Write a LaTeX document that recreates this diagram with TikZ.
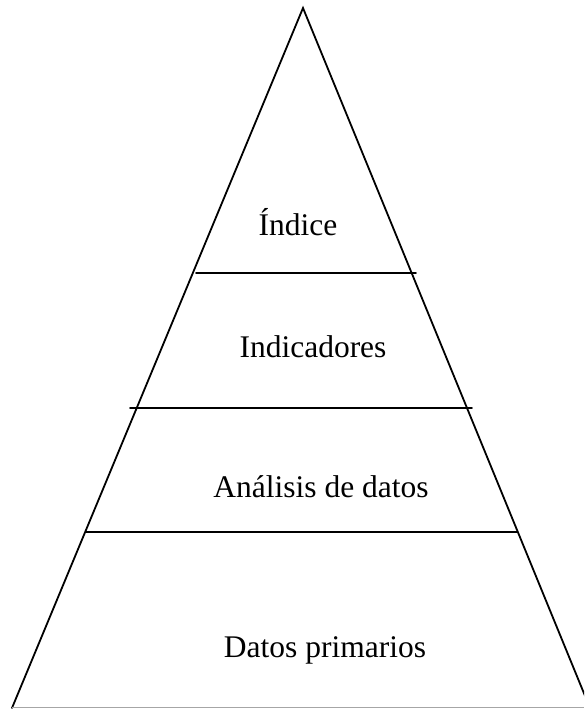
\documentclass[tikz,border=0pt]{standalone}
\usepackage{fontspec}
\setmainfont{Liberation Serif}
\usetikzlibrary{positioning}
\tikzset{
	nivel/.style={line width=1.8pt, line cap=round},
	etiqueta/.style={anchor=base, inner sep=0pt, font=\fontsize{31.5}{36}\selectfont}
}
\begin{document}
\begin{tikzpicture}[x=1pt,y=-1pt]
	\useasboundingbox (0,0) rectangle (584,709);
	\clip (0,0) rectangle (584,709);
	%piramide
	\coordinate (cima) at (303,8);
	\coordinate (izq) at (12,708);
	\coordinate (der) at (590,708);
	\draw [nivel] (izq) -- (cima) -- (der);
	\draw [line width=1.2pt, gray!70] (12,707.5) -- (584,707.5);
	
	%niveles
	\draw [nivel] (196,273) -- (416,273);
	\draw [nivel] (130,408) -- (472,408);
	\draw [nivel] (86,532) -- (517,532);
	
	\node [etiqueta] (indice) at (298,235) {Índice};
	\node [etiqueta] (indicadores) at (313,357) {Indicadores};
	\node [etiqueta] (analisis) at (321,497) {Análisis de datos};
	\node [etiqueta] (datos) at (325,657) {Datos primarios};
	
\end{tikzpicture}
\end{document}
